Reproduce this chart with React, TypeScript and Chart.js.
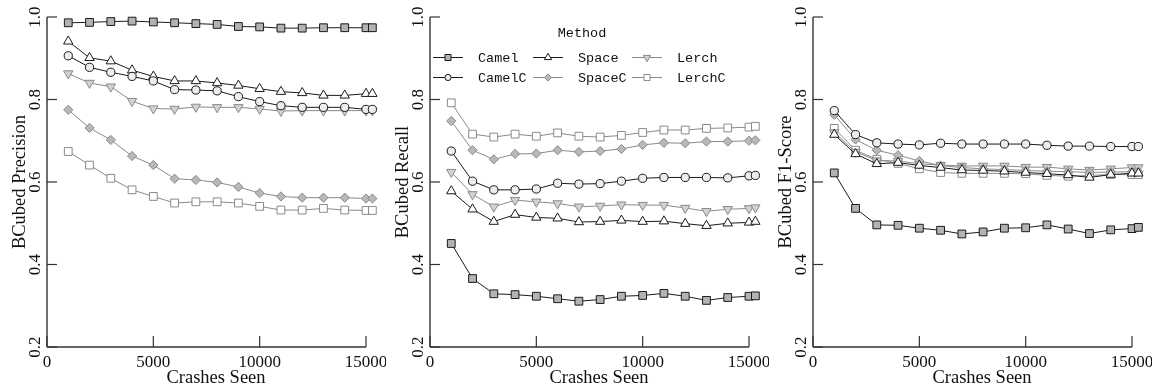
import React, { useEffect, useRef } from "react";
import { Chart, registerables } from "chart.js";

Chart.register(...registerables);

// ---------- data ----------
const crashesSeen = [1000, 2000, 3000, 4000, 5000, 6000, 7000, 8000, 9000, 10000, 11000, 12000, 13000, 14000, 15000, 15300];
const yTickValues = [0.2, 0.4, 0.6, 0.8, 1.0];
const xTickValues = [0, 5000, 10000, 15000];
const yTickLabels = ["0.2", "0.4", "0.6", "0.8", "1.0"];
const xTickLabels = ["0", "5000", "10000", "15000"];
const methodNames = ["Camel", "CamelC", "Space", "SpaceC", "Lerch", "LerchC"];
const legendRows = [["Camel", "Space", "Lerch"], ["CamelC", "SpaceC", "LerchC"]];
const panelTitles = ["BCubed Precision", "BCubed Recall", "BCubed F1-Score"];
const xAxisTitle = "Crashes Seen";
const legendTitle = "Method";

// Precision
const precisionCamel = [0.986, 0.987, 0.989, 0.990, 0.988, 0.986, 0.984, 0.982, 0.977, 0.976, 0.973, 0.973, 0.974, 0.974, 0.974, 0.974];
const precisionCamelC = [0.906, 0.878, 0.866, 0.856, 0.845, 0.824, 0.823, 0.821, 0.807, 0.795, 0.785, 0.781, 0.781, 0.781, 0.776, 0.776];
const precisionSpace = [0.941, 0.901, 0.893, 0.871, 0.856, 0.845, 0.845, 0.840, 0.834, 0.826, 0.819, 0.816, 0.810, 0.810, 0.814, 0.814];
const precisionSpaceC = [0.775, 0.731, 0.702, 0.663, 0.641, 0.608, 0.605, 0.599, 0.588, 0.573, 0.565, 0.562, 0.562, 0.562, 0.560, 0.560];
const precisionLerch = [0.863, 0.840, 0.831, 0.796, 0.778, 0.777, 0.782, 0.781, 0.781, 0.777, 0.772, 0.773, 0.773, 0.773, 0.773, 0.773];
const precisionLerchC = [0.674, 0.641, 0.609, 0.581, 0.565, 0.549, 0.552, 0.552, 0.549, 0.541, 0.532, 0.532, 0.536, 0.532, 0.531, 0.531];

// Recall
const recallCamel = [0.451, 0.366, 0.329, 0.327, 0.323, 0.317, 0.311, 0.315, 0.323, 0.325, 0.330, 0.323, 0.313, 0.320, 0.323, 0.324];
const recallCamelC = [0.675, 0.602, 0.581, 0.581, 0.583, 0.597, 0.595, 0.596, 0.602, 0.609, 0.611, 0.611, 0.611, 0.610, 0.615, 0.616];
const recallSpace = [0.578, 0.534, 0.504, 0.521, 0.514, 0.512, 0.503, 0.504, 0.507, 0.504, 0.505, 0.499, 0.494, 0.500, 0.502, 0.504];
const recallSpaceC = [0.748, 0.677, 0.655, 0.668, 0.669, 0.677, 0.673, 0.675, 0.680, 0.690, 0.695, 0.694, 0.698, 0.698, 0.700, 0.701];
const recallLerch = [0.624, 0.570, 0.540, 0.556, 0.552, 0.548, 0.540, 0.542, 0.545, 0.544, 0.544, 0.537, 0.529, 0.534, 0.536, 0.538];
const recallLerchC = [0.792, 0.716, 0.709, 0.716, 0.711, 0.719, 0.711, 0.709, 0.713, 0.720, 0.726, 0.726, 0.730, 0.731, 0.733, 0.735];

// F1-Score
const f1Camel = [0.622, 0.536, 0.496, 0.495, 0.488, 0.483, 0.474, 0.479, 0.488, 0.489, 0.496, 0.486, 0.475, 0.484, 0.487, 0.490];
const f1CamelC = [0.773, 0.715, 0.695, 0.692, 0.690, 0.694, 0.692, 0.692, 0.692, 0.692, 0.689, 0.687, 0.687, 0.686, 0.686, 0.686];
const f1Space = [0.715, 0.668, 0.644, 0.647, 0.640, 0.635, 0.629, 0.628, 0.626, 0.623, 0.620, 0.617, 0.611, 0.618, 0.621, 0.621];
const f1SpaceC = [0.763, 0.703, 0.677, 0.665, 0.651, 0.640, 0.635, 0.632, 0.630, 0.628, 0.626, 0.625, 0.623, 0.624, 0.625, 0.625];
const f1Lerch = [0.720, 0.673, 0.652, 0.651, 0.644, 0.641, 0.639, 0.639, 0.639, 0.636, 0.636, 0.632, 0.629, 0.632, 0.635, 0.635];
const f1LerchC = [0.730, 0.677, 0.655, 0.645, 0.632, 0.623, 0.621, 0.621, 0.621, 0.620, 0.616, 0.614, 0.616, 0.618, 0.618, 0.618];

const panelSeries = [
  [precisionCamel, precisionCamelC, precisionSpace, precisionSpaceC, precisionLerch, precisionLerchC],
  [recallCamel, recallCamelC, recallSpace, recallSpaceC, recallLerch, recallLerchC],
  [f1Camel, f1CamelC, f1Space, f1SpaceC, f1Lerch, f1LerchC],
];

// ---------- styles ----------
const DARK = "#1a1a1a";
const GRAY = "#8a8a8a";
type Sty = { line: string; fill: string; border: string; shape: string; rot: number; r: number; lr: number };
const styles: Record<string, Sty> = {
  Camel: { line: DARK, fill: "#b3b3b3", border: DARK, shape: "rect", rot: 0, r: 5.5, lr: 4.3 },
  CamelC: { line: DARK, fill: "#ededed", border: DARK, shape: "circle", rot: 0, r: 4.1, lr: 3.1 },
  Space: { line: DARK, fill: "#ffffff", border: DARK, shape: "triangle", rot: 0, r: 5.4, lr: 4.2 },
  SpaceC: { line: GRAY, fill: "#b8b8b8", border: GRAY, shape: "rectRot", rot: 0, r: 4.6, lr: 3.6 },
  Lerch: { line: GRAY, fill: "#d2d2d2", border: GRAY, shape: "triangle", rot: 180, r: 5.4, lr: 4.2 },
  LerchC: { line: GRAY, fill: "#ffffff", border: GRAY, shape: "rect", rot: 0, r: 5.5, lr: 4.3 },
};

const SERIF = "'Liberation Serif', 'Times New Roman', serif";
const MONO = "'Liberation Mono', 'DejaVu Sans Mono', monospace";
const PANEL_W = 386;
const PANEL_H = 387;
const PANEL_STEP = 383;
const X_MAX = 15500;

function drawMarker(ctx: CanvasRenderingContext2D, s: Sty, x: number, y: number, r: number) {
  ctx.save();
  ctx.beginPath();
  if (s.shape === "circle") {
    ctx.arc(x, y, r, 0, Math.PI * 2);
  } else if (s.shape === "rect") {
    const h = r * Math.SQRT1_2;
    ctx.rect(x - h, y - h, 2 * h, 2 * h);
  } else if (s.shape === "rectRot") {
    ctx.moveTo(x, y - r);
    ctx.lineTo(x + r, y);
    ctx.lineTo(x, y + r);
    ctx.lineTo(x - r, y);
    ctx.closePath();
  } else if (s.shape === "triangle") {
    const dir = s.rot === 180 ? -1 : 1;
    ctx.moveTo(x, y - dir * r);
    ctx.lineTo(x + r * 0.866, y + dir * r * 0.5);
    ctx.lineTo(x - r * 0.866, y + dir * r * 0.5);
    ctx.closePath();
  }
  ctx.fillStyle = s.fill;
  ctx.fill();
  ctx.lineWidth = 1;
  ctx.strokeStyle = s.border;
  ctx.stroke();
  ctx.restore();
}

const framePlugin = {
  id: "rangeFrame",
  afterDraw(chart: any, _args: any, opts: any) {
    const ctx: CanvasRenderingContext2D = chart.ctx;
    const xs = chart.scales.x;
    const ys = chart.scales.y;
    const ax = xs.getPixelForValue(0);
    const ay = ys.getPixelForValue(yTickValues[0]);
    ctx.save();
    ctx.strokeStyle = "#333";
    ctx.lineWidth = 1.4;
    // y axis line
    ctx.beginPath();
    ctx.moveTo(ax, ys.getPixelForValue(yTickValues[0]));
    ctx.lineTo(ax, ys.getPixelForValue(yTickValues[yTickValues.length - 1]));
    ctx.stroke();
    // x axis line
    ctx.beginPath();
    ctx.moveTo(xs.getPixelForValue(xTickValues[0]), ay);
    ctx.lineTo(xs.getPixelForValue(xTickValues[xTickValues.length - 1]), ay);
    ctx.stroke();
    // ticks (inward)
    ctx.lineWidth = 1.2;
    yTickValues.forEach((v) => {
      const py = ys.getPixelForValue(v);
      ctx.beginPath();
      ctx.moveTo(ax, py);
      ctx.lineTo(ax + 10, py);
      ctx.stroke();
    });
    xTickValues.forEach((v) => {
      const px = xs.getPixelForValue(v);
      ctx.beginPath();
      ctx.moveTo(px, ay);
      ctx.lineTo(px, ay - 11);
      ctx.stroke();
    });
    // tick labels
    ctx.fillStyle = "#111";
    ctx.font = `17px ${SERIF}`;
    ctx.textAlign = "center";
    ctx.textBaseline = "alphabetic";
    xTickValues.forEach((v, i) => {
      ctx.fillText(xTickLabels[i], xs.getPixelForValue(v), 366.5);
    });
    yTickValues.forEach((v, i) => {
      ctx.save();
      ctx.translate(ax - 7, ys.getPixelForValue(v));
      ctx.rotate(-Math.PI / 2);
      ctx.fillText(yTickLabels[i], 0, 0);
      ctx.restore();
    });
    // titles
    ctx.font = `18.5px ${SERIF}`;
    ctx.fillText(xAxisTitle, ax + 169, 382.5);
    ctx.save();
    ctx.translate(ax - 22, (chart.chartArea.top + chart.chartArea.bottom) / 2);
    ctx.rotate(-Math.PI / 2);
    ctx.fillText(opts.title, 0, 0);
    ctx.restore();

    // legend
    if (opts.legend) {
      ctx.font = `13.5px ${MONO}`;
      ctx.fillStyle = "#111";
      ctx.textAlign = "center";
      ctx.fillText(legendTitle, 199, 37);
      const colX = [65, 165, 264];
      const rowY = [57.5, 77.5];
      const rowBase = [62, 82];
      legendRows.forEach((row, ri) => {
        row.forEach((name, ci) => {
          const s = styles[name];
          const mx = colX[ci];
          const my = rowY[ri];
          ctx.strokeStyle = s.line;
          ctx.lineWidth = 1;
          ctx.beginPath();
          ctx.moveTo(mx - 15, my);
          ctx.lineTo(mx + 15, my);
          ctx.stroke();
          drawMarker(ctx, s, mx, my, s.lr);
          ctx.fillStyle = "#111";
          ctx.textAlign = "left";
          ctx.fillText(name, mx + 30, rowBase[ri]);
        });
      });
    }
    ctx.restore();
  },
};

function Panel({ index }: { index: number }) {
  const ref = useRef<HTMLCanvasElement | null>(null);
  useEffect(() => {
    if (!ref.current) return;
    const series = panelSeries[index];
    const datasets = methodNames.map((name, i) => {
      const s = styles[name];
      return {
        label: name,
        data: crashesSeen.map((x, k) => ({ x, y: series[i][k] })),
        borderColor: s.line,
        borderWidth: 1,
        backgroundColor: s.fill,
        pointBackgroundColor: s.fill,
        pointBorderColor: s.border,
        pointBorderWidth: 1,
        pointStyle: s.shape,
        pointRotation: s.rot,
        pointRadius: s.r,
        pointHoverRadius: s.r,
        tension: 0,
        clip: false as any,
      };
    });
    const plotW = (X_MAX * 319) / 15000;
    const chart = new Chart(ref.current, {
      type: "line",
      data: { datasets: datasets as any },
      options: {
        responsive: false,
        animation: false,
        events: [],
        layout: { padding: { left: 47, right: PANEL_W - 47 - plotW, top: 17, bottom: 40 } },
        scales: {
          x: { type: "linear", min: 0, max: X_MAX, display: false },
          y: { type: "linear", min: 0.2, max: 1.0, display: false },
        },
        plugins: {
          legend: { display: false },
          tooltip: { enabled: false },
          rangeFrame: { title: panelTitles[index], legend: index === 1 },
        } as any,
      },
      plugins: [framePlugin],
    });
    return () => chart.destroy();
  }, [index]);
  return (
    <div style={{ position: "absolute", left: PANEL_STEP * index, top: 0, width: PANEL_W, height: PANEL_H }}>
      <canvas ref={ref} width={PANEL_W} height={PANEL_H} style={{ width: PANEL_W, height: PANEL_H, display: "block" }} />
    </div>
  );
}

export default function App() {
  return (
    <div style={{ position: "absolute", left: 0, top: 0, width: 1159, height: 387, background: "#fff" }}>
      {[0, 1, 2].map((i) => (
        <Panel key={i} index={i} />
      ))}
    </div>
  );
}
